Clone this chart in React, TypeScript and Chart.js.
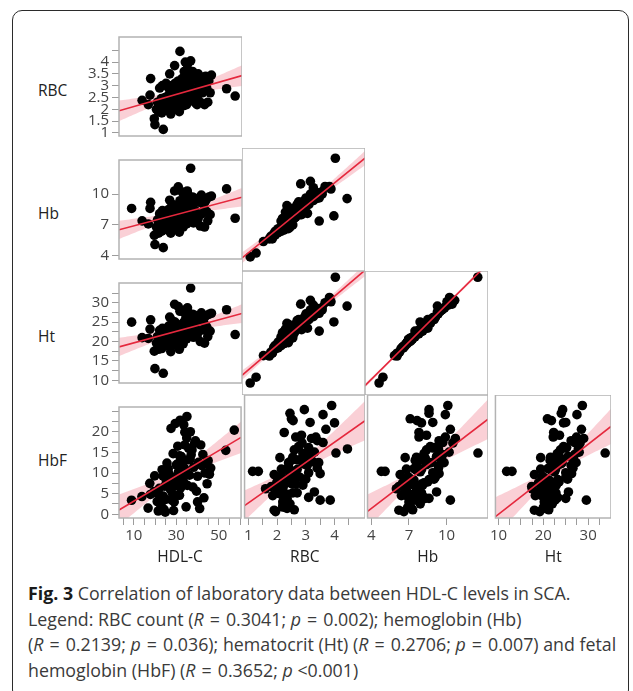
import React, { useEffect, useRef } from 'react';
import { Chart, registerables } from 'chart.js';
Chart.register(...registerables);

// ---- Subject values (one entry per patient) ----
const HDL_C = [
  8.9, 13.8, 16.7, 17.5, 17.8, 19.5, 19.8, 23.7, 53.3, 57.3, 31.5, 36.5, 35.0, 34.0, 40.0,
  20.5, 21.0, 21.5, 22.0, 22.4, 22.8, 23.0, 23.3, 23.8, 24.2,
  24.5, 24.8, 25.0, 25.3, 25.6, 25.9, 26.2, 26.4, 39.0, 27.0,
  27.2, 27.5, 27.8, 28.0, 28.2, 28.5, 28.7, 39.5, 29.2, 29.5,
  29.7, 30.0, 30.2, 30.4, 30.7, 31.0, 31.2, 31.5, 31.8, 32.0,
  32.3, 32.5, 32.8, 33.0, 33.3, 33.5, 33.8, 34.0, 34.3, 34.6,
  34.9, 35.2, 35.5, 35.8, 36.2, 36.6, 37.0, 37.4, 37.8, 38.2,
  38.6, 26.7, 29.0, 40.0, 40.5, 41.0, 41.5, 42.0, 42.5, 43.0,
  43.5, 44.0, 44.5, 45.0, 45.6, 46.2, 26.0, 30.8,
];
const RBC = [
  null, 2.38, 2.2, 2.6, 3.3, 1.6, 1.35, 1.15, 2.87, 2.56, 4.45, 4.05, 3.9, 4.0, 3.5,
  2.0, 2.3, 1.9, 2.9, 2.2, 2.45, 1.85, 3.0, 2.1, 2.35,
  2.5, 1.95, 3.1, 2.15, 2.55, 2.0, 2.9, 2.4, 2.25, 2.65,
  1.8, 2.5, 3.0, 2.35, 2.1, 2.75, 2.6, 2.2, 3.1, 2.45,
  2.0, 2.85, 2.3, 2.55, 3.2, 2.4, 1.9, 2.7, 2.95, 2.25,
  2.6, 3.3, 2.5, 2.15, 2.8, 3.6, 2.4, 2.65, 3.05, 2.2,
  3.7, 2.55, 2.9, 3.4, 2.35, 3.15, 2.75, 3.6, 2.5, 3.25,
  2.85, 3.5, 3.85, 2.6, 3.0, 2.3, 3.35, 2.7, 3.1, 2.2,
  3.4, 2.9, 2.3, 3.2, 2.7, 3.45, 2.45, 2.1,
];
const HB = [
  8.6, 7.4, 7.1, 8.6, 9.2, 6.0, 5.1, 4.8, 10.5, 7.65, 9.35, 12.5, 10.1, 8.0, 7.6,
  6.8, 7.5, 6.2, 8.1, 7.0, 7.9, 6.4, 8.4, 7.0, 7.2,
  8.2, 6.6, 8.2, 6.9, 7.6, 6.5, 8.5, 7.4, 7.8, 8.0,
  6.2, 7.1, 9.0, 8.3, 6.7, 8.7, 7.3, 7.6, 8.9, 8.6,
  6.7, 8.1, 7.0, 8.0, 10.7, 7.7, 6.3, 7.9, 8.6, 7.3,
  8.4, 10.2, 7.5, 6.8, 9.1, 9.9, 8.8, 7.8, 9.4, 7.1,
  10.3, 8.5, 8.2, 9.4, 7.6, 8.9, 8.9, 9.7, 7.2, 9.6,
  8.4, 9.4, 10.3, 7.9, 9.2, 6.9, 9.9, 8.1, 9.0, 6.8,
  9.35, 8.3, 7.4, 9.7, 8.0, 9.8, 7.0, 6.7,
];
const HT = [
  25.0, 21.0, 20.8, 23.2, 25.6, 17.5, 13.0, 11.8, 28.2, 21.8, 27.8, 33.8, 28.7, 24.5, 22.6,
  19.6, 21.3, 18.0, 22.9, 20.2, 22.0, 18.2, 23.4, 20.3, 20.4,
  22.6, 19.2, 23.2, 19.8, 21.6, 18.9, 24.0, 21.0, 22.3, 22.6,
  17.4, 20.9, 25.4, 23.0, 19.1, 24.5, 21.2, 21.4, 25.0, 24.0,
  19.4, 23.2, 20.0, 22.4, 29.0, 22.1, 18.0, 22.8, 24.3, 20.6,
  23.8, 28.0, 21.5, 19.4, 25.0, 27.5, 24.2, 22.2, 26.2, 20.7,
  28.5, 23.5, 23.1, 26.2, 21.8, 25.0, 24.8, 27.0, 21.1, 26.8,
  23.6, 26.3, 29.6, 22.5, 25.5, 20.0, 27.4, 23.0, 25.2, 19.6,
  26.6, 23.8, 21.3, 27.0, 22.7, 27.3, 20.2, 19.4,
];
const HBF = [
  3.4, 4.3, 1.5, 7.5, 4.8, 5.5, 9.3, 9.3, 15.5, 20.4, 14.2, 13.3, 23.7, 19.9, 3.0,
  5.2, 3.1, 0.8, 6.3, 2.6, 2.2, 4.0, 10.8, 4.4, 1.2,
  6.8, 0.5, 3.6, 8.2, 12.4, 6.8, 11.0, 9.9, 17.8, 6.5,
  6.0, 20.8, 7.6, 3.4, 5.0, 14.7, 0.9, 5.6, 9.0, 22.0,
  7.0, 12.0, 7.2, 4.6, 16.5, 10.3, 8.6, 4.6, 22.8, 6.4,
  14.0, 13.5, 11.7, 9.8, 8.0, 21.7, 11.2, 16.8, 10.6, 1.8,
  18.5, 7.0, 13.2, 16.0, 9.5, 20.0, 14.4, 15.6, 6.6, 11.4,
  17.2, 8.8, 3.0, 9.2, 12.6, 1.4, 16.8, 11.8, 14.5, 4.0,
  10.0, 12.2, 7.4, 13.0, 9.7, 11.2, 7.9, 12.3,
];

// ---- Axes: ranges, tick positions, labelled ticks ----
const HDL_RANGE = [3, 60.5];
const HDL_TICKS_X = [5, 10, 15, 20, 25, 30, 35, 40, 45, 50, 55, 60];
const HDL_LABELS_X = [10, 30, 50];

const RBC_RANGE = [0.87, 5.06];
const RBC_TICKS_Y = [1, 1.5, 2, 2.5, 3, 3.5, 4, 4.5];
const RBC_LABELS_Y = [1, 1.5, 2, 2.5, 3, 3.5, 4];
const RBC_TICKS_X = [1, 1.5, 2, 2.5, 3, 3.5, 4, 4.5];
const RBC_LABELS_X = [1, 2, 3, 4];

const HB_RANGE = [3.7, 13.3];
const HB_TICKS = [4, 7, 10];
const HB_LABELS = [4, 7, 10];

const HT_RANGE = [9.3, 35.1];
const HT_TICKS_Y = [10, 12.5, 15, 17.5, 20, 22.5, 25, 27.5, 30, 32.5];
const HT_LABELS_Y = [10, 15, 20, 25, 30];
const HT_TICKS_X = [10, 12.5, 15, 17.5, 20, 22.5, 25, 27.5, 30, 32.5];
const HT_LABELS_X = [10, 20, 30];

const HBF_RANGE = [-0.9, 26];
const HBF_TICKS_Y = [0, 2.5, 5, 7.5, 10, 12.5, 15, 17.5, 20, 22.5, 25];
const HBF_LABELS_Y = [0, 5, 10, 15, 20];

const ROW_NAMES = ['RBC', 'Hb', 'Ht', 'HbF'];
const COL_NAMES = ['HDL-C', 'RBC', 'Hb', 'Ht'];

const VARS: Record<string, any> = {
  'HDL-C': { values: HDL_C, range: HDL_RANGE, ticksX: HDL_TICKS_X, labelsX: HDL_LABELS_X },
  RBC: { values: RBC, range: RBC_RANGE, ticksX: RBC_TICKS_X, labelsX: RBC_LABELS_X, ticksY: RBC_TICKS_Y, labelsY: RBC_LABELS_Y },
  Hb: { values: HB, range: HB_RANGE, ticksX: HB_TICKS, labelsX: HB_LABELS, ticksY: HB_TICKS, labelsY: HB_LABELS },
  Ht: { values: HT, range: HT_RANGE, ticksX: HT_TICKS_X, labelsX: HT_LABELS_X, ticksY: HT_TICKS_Y, labelsY: HT_LABELS_Y },
  HbF: { values: HBF, range: HBF_RANGE, ticksY: HBF_TICKS_Y, labelsY: HBF_LABELS_Y },
};

// ---- Layout ----
const COL_LEFT = [119, 242, 365, 488];
const CELL_W = 123;
const ROW_TOP = [25, 148, 271, 395];
const ROW_H = [123, 123, 124, 123];
const Y_AXIS_W = 60;
const X_AXIS_H = 50;
const FONT = '"Open Sans", "DejaVu Sans", sans-serif';

function fitLine(xs: any[], ys: any[], xmin: number, xmax: number) {
  const px: number[] = [];
  const py: number[] = [];
  for (let i = 0; i < xs.length; i++) {
    if (xs[i] != null && ys[i] != null) { px.push(xs[i]); py.push(ys[i]); }
  }
  const n = px.length;
  const mx = px.reduce((a, b) => a + b, 0) / n;
  const my = py.reduce((a, b) => a + b, 0) / n;
  let sxx = 0, sxy = 0;
  for (let i = 0; i < n; i++) { sxx += (px[i] - mx) ** 2; sxy += (px[i] - mx) * (py[i] - my); }
  const b = sxy / sxx;
  const a = my - b * mx;
  let sse = 0;
  for (let i = 0; i < n; i++) sse += (py[i] - a - b * px[i]) ** 2;
  const s = Math.sqrt(sse / (n - 2));
  const t = 1.986;
  const upper: any[] = [];
  const lower: any[] = [];
  const steps = 60;
  for (let k = 0; k <= steps; k++) {
    const x = xmin + ((xmax - xmin) * k) / steps;
    const yh = a + b * x;
    const hw = t * s * Math.sqrt(1 / n + (x - mx) ** 2 / sxx);
    upper.push({ x, y: yh + hw });
    lower.push({ x, y: yh - hw });
  }
  return { line: [{ x: xmin, y: a + b * xmin }, { x: xmax, y: a + b * xmax }], upper, lower, pts: px.map((x, i) => ({ x, y: py[i] })) };
}

const panelBorder = {
  id: 'panelBorder',
  afterDraw(chart: any) {
    const { ctx, chartArea } = chart;
    ctx.save();
    ctx.strokeStyle = '#b3b3b3';
    ctx.lineWidth = 1.5;
    ctx.strokeRect(chartArea.left, chartArea.top, chartArea.right - chartArea.left, chartArea.bottom - chartArea.top);
    ctx.restore();
  },
};

function Panel({ r, c }: { r: number; c: number }) {
  const ref = useRef<HTMLCanvasElement>(null);
  const isLeft = c === 0;
  const isBottom = r === 3;
  const width = CELL_W + (isLeft ? Y_AXIS_W : 0);
  const height = ROW_H[r] + (isBottom ? X_AXIS_H : 0);
  const left = COL_LEFT[c] - (isLeft ? Y_AXIS_W : 0);
  const top = ROW_TOP[r];

  useEffect(() => {
    const xv = VARS[COL_NAMES[c]];
    const yv = VARS[ROW_NAMES[r]];
    const f = fitLine(xv.values, yv.values, xv.range[0], xv.range[1]);
    const tickFont = { family: FONT, size: 15 };
    const grid = { display: true, drawOnChartArea: false, drawTicks: true, tickLength: 7, color: '#9c9c9c', lineWidth: 1 };
    const chart = new Chart(ref.current as HTMLCanvasElement, {
      type: 'scatter',
      data: {
        datasets: [
          { type: 'line', data: f.line, borderColor: '#e5283d', borderWidth: 1.6, pointRadius: 0, fill: false } as any,
          { type: 'scatter', data: f.pts, backgroundColor: '#000000', borderWidth: 0, pointRadius: 4.8, pointHoverRadius: 4.8 } as any,
          { type: 'line', data: f.upper, borderColor: 'rgba(0,0,0,0)', borderWidth: 0, pointRadius: 0, fill: false } as any,
          { type: 'line', data: f.lower, borderColor: 'rgba(0,0,0,0)', borderWidth: 0, pointRadius: 0, fill: '-1', backgroundColor: 'rgba(245,150,165,0.45)' } as any,
        ],
      },
      options: {
        animation: false,
        responsive: true,
        maintainAspectRatio: false,
        events: [],
        layout: { padding: 0, autoPadding: false } as any,
        plugins: { legend: { display: false }, tooltip: { enabled: false } },
        scales: {
          x: {
            type: 'linear',
            display: isBottom,
            min: xv.range[0],
            max: xv.range[1],
            afterFit: (s: any) => { s.height = isBottom ? X_AXIS_H : 0; },
            afterBuildTicks: (s: any) => { s.ticks = (xv.ticksX || []).map((v: number) => ({ value: v })); },
            ticks: {
              autoSkip: false, maxRotation: 0, minRotation: 0, padding: 2, color: '#444',
              font: tickFont,
              callback: (v: any) => ((xv.labelsX || []).includes(v) ? String(v) : ''),
            },
            grid,
            border: { display: false },
            title: { display: true, text: COL_NAMES[c], color: '#222', font: { family: FONT, size: 15.5 }, padding: { top: 0, bottom: 1 } },
          },
          y: {
            type: 'linear',
            display: isLeft,
            min: yv.range[0],
            max: yv.range[1],
            afterFit: (s: any) => { s.width = isLeft ? Y_AXIS_W : 0; },
            afterBuildTicks: (s: any) => { s.ticks = (yv.ticksY || []).map((v: number) => ({ value: v })); },
            ticks: {
              autoSkip: false, padding: 3, color: '#444',
              font: tickFont,
              callback: (v: any) => ((yv.labelsY || []).includes(v) ? String(v) : ''),
            },
            grid,
            border: { display: false },
          },
        },
      } as any,
      plugins: [panelBorder],
    });
    return () => chart.destroy();
  }, [r, c]);

  return (
    <div style={{ position: 'absolute', left, top, width, height }}>
      <canvas ref={ref} />
    </div>
  );
}

const ROW_LABEL_LEFT = 38;

function Eq() {
  return <span style={{ margin: '0 0.34em' }}>=</span>;
}

export default function App() {
  const panels: any[] = [];
  for (let r = 0; r < 4; r++) for (let c = 0; c <= r; c++) panels.push(<Panel key={`${r}-${c}`} r={r} c={c} />);
  return (
    <div style={{ position: 'fixed', left: 0, top: 0, width: 633, height: 691, background: '#fff', overflow: 'hidden', fontFamily: FONT }}>
      <div style={{ position: 'absolute', left: 12, top: 10, width: 617, height: 690, border: '1.5px solid #2b2b2b', borderRadius: 10, boxSizing: 'border-box' }} />
      {ROW_NAMES.map((name, r) => (
        <div
          key={name}
          style={{
            position: 'absolute', left: ROW_LABEL_LEFT,
            top: ROW_TOP[r] + ROW_H[r] / 2 - 7, lineHeight: '20px', fontSize: 15.5, color: '#222',
          }}
        >
          {name}
        </div>
      ))}
      {panels}
      <div style={{ position: 'absolute', left: 28, top: 581, fontSize: 17.8, lineHeight: '25.5px', color: '#3a3a3a', whiteSpace: 'nowrap' }}>
        <div><b style={{ color: '#1a1a1a' }}>Fig. 3</b> Correlation of laboratory data between HDL-C levels in SCA.</div>
        <div>Legend: RBC count (<i>R</i><Eq />0.3041; <i>p</i><Eq />0.002); hemoglobin (Hb)</div>
        <div>(<i>R</i><Eq />0.2139; <i>p</i><Eq />0.036); hematocrit (Ht) (<i>R</i><Eq />0.2706; <i>p</i><Eq />0.007) and fetal</div>
        <div>hemoglobin (HbF) (<i>R</i><Eq />0.3652; <i>p</i> &lt;0.001)</div>
      </div>
    </div>
  );
}
